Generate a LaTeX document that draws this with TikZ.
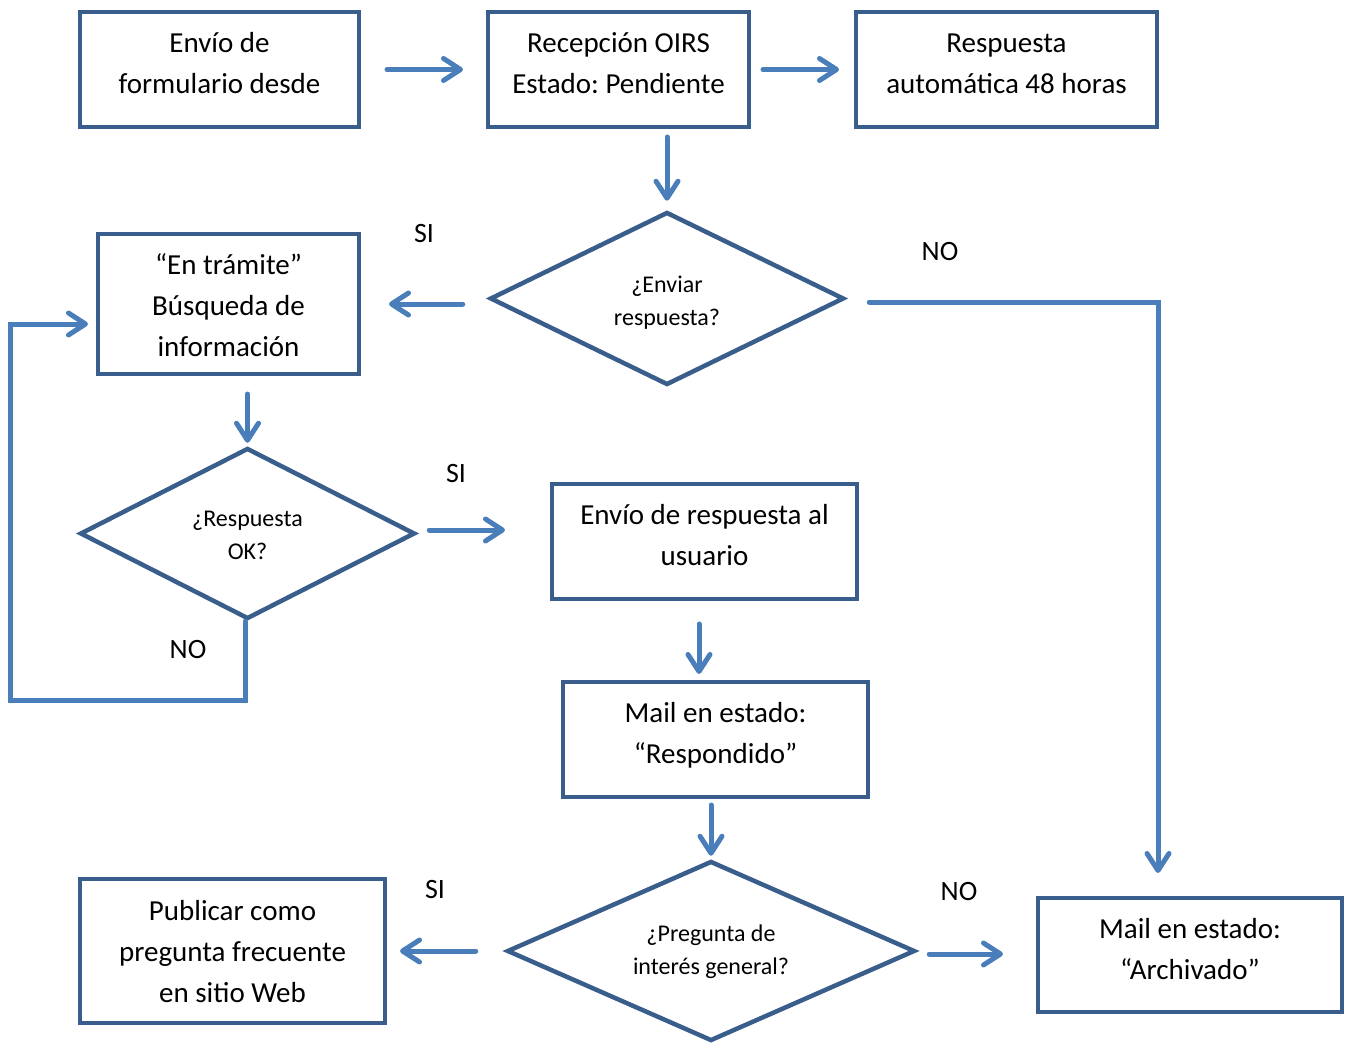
\documentclass[tikz,border=0pt]{standalone}
\usepackage{fontspec}
\setmainfont{Carlito}
\frenchspacing
\usetikzlibrary{arrows.meta,shapes.geometric,calc}
\definecolor{boxc}{RGB}{58,94,140}
\definecolor{arrc}{RGB}{74,126,187}
\newcommand{\bt}[2][6pt]{\raisebox{#1}[\height][\depth]{\begin{tabular}{@{}c@{}}#2\end{tabular}}}
\begin{document}
\begin{tikzpicture}[x=1pt,y=-1pt,
  box/.style={draw=boxc,line width=4pt,rectangle,inner sep=0pt,align=center,
    font=\fontsize{29}{41}\selectfont},
  dia/.style={draw=boxc,line width=4.5pt,diamond,inner sep=0pt,align=center,
    font=\fontsize{24}{33}\selectfont},
  arr/.style={draw=arrc,line width=5pt,line cap=round,
    -{Straight Barb[length=17pt,width=22pt,line cap=round,line join=round]}},
  lbl/.style={font=\fontsize{28}{34}\selectfont,inner sep=0pt}]
\useasboundingbox (0,0) rectangle (1350,1043);
% boxes
\node[box,minimum width=279,minimum height=115] (b1) at (219.5,69.5) {\bt[5pt]{Envío de\\formulario desde}};
\node[box,minimum width=261,minimum height=115] (b2) at (618.5,69.5) {\bt[5pt]{Recepción OIRS\\Estado: Pendiente}};
\node[box,minimum width=301,minimum height=115] (b3) at (1006.5,69.5) {\bt[5pt]{Respuesta\\automática 48 horas}};
\node[box,minimum width=261,minimum height=140] (b4) at (228.5,304) {\bt[-3pt]{“En trámite”\\Búsqueda de\\información}};
\node[box,minimum width=305,minimum height=115] (b5) at (704.5,541.5) {\bt[5pt]{Envío de respuesta al\\usuario}};
\node[box,minimum width=305,minimum height=115] (b6) at (715.5,739.5) {\bt[5pt]{Mail en estado:\\“Respondido”}};
\node[box,minimum width=305,minimum height=144] (b7) at (232.5,951) {\bt[-2pt]{Publicar como\\pregunta frecuente\\en sitio Web}};
\node[box,minimum width=304,minimum height=114] (ba) at (1190,955) {\bt[4pt]{Mail en estado:\\“Archivado”}};
% diamonds
\node[dia,aspect=2.05,minimum width=354,minimum height=173] (d1) at (667,298.5) {\bt[-4pt]{¿Enviar\\respuesta?}};
\node[dia,aspect=1.96,minimum width=335,minimum height=171] (d2) at (247.5,533.5) {\bt[-2.5pt]{¿Respuesta\\OK?}};
\node[dia,aspect=2.27,minimum width=408,minimum height=180] (d3) at (711,951) {\bt[0pt]{¿Pregunta de\\interés general?}};
% helper coordinates
\coordinate (c1) at (1158,302);
\coordinate (l1) at (10,700);
\coordinate (l2) at (10,324);
% connectors
\draw[arr,shorten <=26pt,shorten >=23pt] (b1.east) -- (b1.east -| b2.west);
\draw[arr,shorten <=12pt,shorten >=15pt] (b2.east) -- (b2.east -| b3.west);
\draw[arr,shorten <=8pt,shorten >=9pt] (d1.north |- b2.south) -- (d1.north);
\draw[arr,shorten <=25pt,shorten >=28pt] (d1.west |- b4.east) -- (b4.east);
\draw[arr,shorten <=23pt,shorten >=23pt] (d1.east |- c1) -- (c1) -- (c1 |- ba.north);
\draw[arr,shorten <=18pt,shorten >=3pt] (d2.north |- b4.south) -- (d2.north);
\draw[arr,shorten <=12pt,shorten >=45pt] ([yshift=3.5pt]d2.east) -- ([yshift=3.5pt]d2.east -| b5.west);
\draw[arr,shorten >=8pt] ([xshift=-2.5pt]d2.south) -- ([xshift=-2.5pt]d2.south |- l1) -- (l1) -- (l2) -- (l2 -| b4.west);
\draw[arr,shorten <=23pt,shorten >=6pt] ([xshift=-5.5pt]b5.south) -- ([xshift=-5.5pt]b5.south |- b6.north);
\draw[arr,shorten <=6pt,shorten >=3pt] (d3.north |- b6.south) -- (d3.north);
\draw[arr,shorten <=29pt,shorten >=13pt] (d3.west) -- (d3.west -| b7.east);
\draw[arr,shorten <=12pt,shorten >=33pt] ([yshift=-3pt]d3.east) -- ([yshift=-3pt]d3.east -| ba.west);
% labels
\node[lbl] (s1) at (424,234) {SI};
\node[lbl] (n1) at (940,252) {NO};
\node[lbl] (s2) at (456,474) {SI};
\node[lbl] (n2) at (188,650) {NO};
\node[lbl] (s3) at (435,890) {SI};
\node[lbl] (n3) at (959,892) {NO};
\end{tikzpicture}
\end{document}
